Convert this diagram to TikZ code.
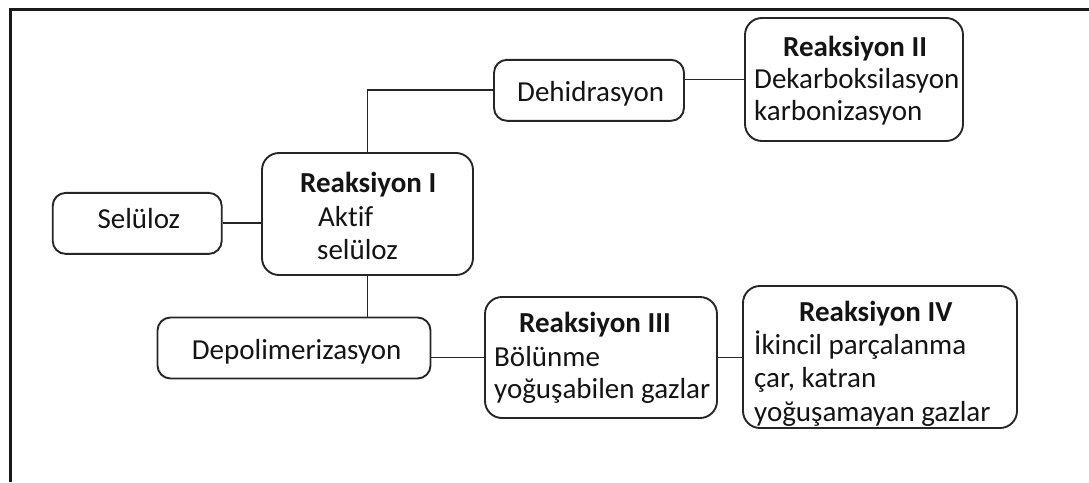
\documentclass[tikz,border=0pt]{standalone}
\usepackage{fontspec}
\setmainfont{Carlito}[Ligatures=NoCommon]
\begin{document}
\begin{tikzpicture}[x=1pt,y=-1pt,
  box/.style={draw=black!85,line width=1.9pt,rounded corners=13pt,inner sep=0pt},
  bigbox/.style={box,rounded corners=17pt},
  conn/.style={draw=black!85,line width=1.9pt},
  frameline/.style={draw=black!90,line width=2.6pt},
  txt/.style={inner sep=0pt,anchor=base west,text=black!92,font=\fontsize{29}{34}\selectfont},
  ttl/.style={txt,font=\fontsize{29}{34}\selectfont\bfseries}]
\useasboundingbox (0,0) rectangle (1089,482);
\draw[frameline] (1089,9.5) -- (10.5,9.5) -- (10.5,482);
% boxes
\node[box,minimum width=169pt,minimum height=61pt] (sel) at (137.2,223.4) {};
\node[bigbox,minimum width=211pt,minimum height=122pt] (r1) at (367.5,214) {};
\node[box,minimum width=190pt,minimum height=61pt] (deh) at (589,90.3) {};
\node[bigbox,minimum width=218pt,minimum height=123pt] (r2) at (854,79.5) {};
\node[box,minimum width=273pt,minimum height=61pt] (dep) at (294,348) {};
\node[bigbox,minimum width=232pt,minimum height=121pt] (r3) at (601,357.5) {};
\node[bigbox,minimum width=274pt,minimum height=142pt] (r4) at (880,357) {};
% connectors
\draw[conn] (sel.east) -- (sel.east -| r1.west);
\draw[conn] (r1.north) |- (deh.west);
\draw[conn] (r2.west) -- (r2.west -| deh.east);
\draw[conn] (r1.south) -- (r1.south |- dep.north);
\draw[conn] (r3.west) -- (r3.west -| dep.east);
\draw[conn] (r3.east) -- (r3.east -| r4.west);
% texts
\node[txt] (tsel) at (97.3,228.3) {Selüloz};
\node[ttl] (t1a) at (300,192.7) {Reaksiyon I};
\node[txt] (t1b) at (318,226) {Aktif};
\node[txt] (t1c) at (317,259) {selüloz};
\node[txt] (tdeh) at (517,101.7) {Dehidrasyon};
\node[ttl] (t2a) at (783,56.7) {Reaksiyon II};
\node[txt] (t2b) at (754,88) {Dekarboksilasyon};
\node[txt] (t2c) at (754,120) {karbonizasyon};
\node[txt] (tdep) at (191.7,359) {Depolimerizasyon};
\node[ttl] (t3a) at (519,332.7) {Reaksiyon III};
\node[txt] (t3b) at (494,366) {Bölünme};
\node[txt] (t3c) at (494,398) {yoğuşabilen gazlar};
\node[ttl] (t4a) at (799,321.7) {Reaksiyon IV};
\node[txt] (t4b) at (754,354) {İkincil parçalanma};
\node[txt] (t4c) at (754,387) {çar, katran};
\node[txt] (t4d) at (754,421.7) {yoğuşamayan gazlar};
\end{tikzpicture}
\end{document}
